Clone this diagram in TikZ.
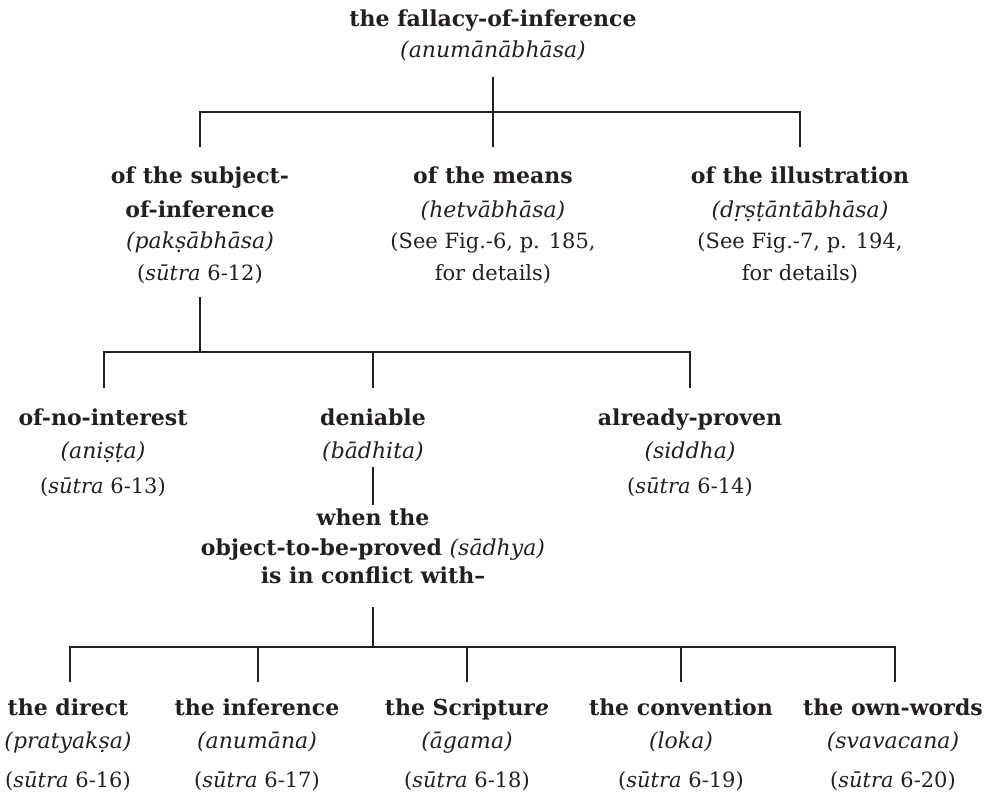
\documentclass[tikz,border=0pt]{standalone}
\usepackage{fontspec}
\setmainfont{DejaVu Serif}
\definecolor{ink}{HTML}{231F20}
\begin{document}
\begin{tikzpicture}[x=1pt,y=-1pt,
  txt/.style={inner sep=0pt,anchor=base,text=ink,font=\fontsize{21}{24}\selectfont},
  hd/.style={txt,font=\fontsize{22}{25}\selectfont\bfseries},
  tr/.style={txt,font=\fontsize{22}{25}\selectfont\itshape},
  link/.style={draw=ink,line width=1.3pt}]
\useasboundingbox (0,0) rectangle (996,795);

% root
\node[hd] (root) at (493,27) {the fallacy-of-inference};
\node[tr] (rootT) at (493,57) {(anumānābhāsa)};

% second level
\node[hd] (subjA) at (200,183) {of the subject-};
\node[hd] (subjB) at (200,217) {of-inference};
\node[tr] (subjT) at (200,248) {(pakṣābhāsa)};
\node[txt] (subjS) at (200,280) {(\textit{sūtra} 6-12)};

\node[hd] (mean) at (493,183) {of the means};
\node[tr] (meanT) at (493,217) {(hetvābhāsa)};
\node[txt] (meanA) at (493,248) {(See Fig.-6, p. 185,};
\node[txt] (meanB) at (493,280) {for details)};

\node[hd] (illu) at (800,183) {of the illustration};
\node[tr] (illuT) at (800,217) {(dṛṣṭāntābhāsa)};
\node[txt] (illuA) at (800,248) {(See Fig.-7, p. 194,};
\node[txt] (illuB) at (800,280) {for details)};

% third level
\node[hd] (noint) at (103,425) {of-no-interest};
\node[tr] (nointT) at (103,458) {(aniṣṭa)};
\node[txt] (nointS) at (103,493) {(\textit{sūtra} 6-13)};

\node[hd] (deni) at (373,425) {deniable};
\node[tr] (deniT) at (373,458) {(bādhita)};

\node[hd] (prov) at (690,425) {already-proven};
\node[tr] (provT) at (690,458) {(siddha)};
\node[txt] (provS) at (690,493) {(\textit{sūtra} 6-14)};

\node[hd] (whenA) at (373,525) {when the};
\node[hd] (whenB) at (373,555) {object-to-be-proved \normalfont\itshape(sādhya)};
\node[hd] (whenC) at (373,583) {is in conflict with–};

% fourth level
\node[hd] (dir) at (68,715) {the direct};
\node[tr] (dirT) at (68,748) {(pratyakṣa)};
\node[txt] (dirS) at (68,787) {(\textit{sūtra} 6-16)};

\node[hd] (inf) at (257,715) {the inference};
\node[tr] (infT) at (257,748) {(anumāna)};
\node[txt] (infS) at (257,787) {(\textit{sūtra} 6-17)};

\node[hd] (scr) at (467,715) {the Scriptur\textit{e}};
\node[tr] (scrT) at (467,748) {(āgama)};
\node[txt] (scrS) at (467,787) {(\textit{sūtra} 6-18)};

\node[hd] (conv) at (681,715) {the convention};
\node[tr] (convT) at (681,748) {(loka)};
\node[txt] (convS) at (681,787) {(\textit{sūtra} 6-19)};

\node[hd] (own) at (893,715) {the own-words};
\node[tr] (ownT) at (893,748) {(svavacana)};
\node[txt] (ownS) at (893,787) {(\textit{sūtra} 6-20)};

% junction points of the tree
\coordinate (r0) at (493,77);
\coordinate (r1) at (493,112);
\coordinate (bL1) at (200,112);
\coordinate (bR1) at (800,112);
\coordinate (d1a) at (200,147);
\coordinate (d1b) at (493,147);
\coordinate (d1c) at (800,147);

\coordinate (s0) at (200,297);
\coordinate (s1) at (200,352);
\coordinate (bL2) at (104,352);
\coordinate (bR2) at (690,352);
\coordinate (d2a) at (104,388);
\coordinate (d2b) at (373,388);
\coordinate (d2c) at (690,388);

\coordinate (n0) at (373,467);
\coordinate (n1) at (373,505);

\coordinate (w0) at (373,607);
\coordinate (w1) at (373,647);
\coordinate (bL3) at (70,647);
\coordinate (bR3) at (895,647);
\coordinate (d3a) at (70,682);
\coordinate (d3b) at (258,682);
\coordinate (d3c) at (467,682);
\coordinate (d3d) at (681,682);
\coordinate (d3e) at (895,682);

% connectors
\draw[link] (r0) -- (r1);
\draw[link] (d1a) -- (bL1) -- (bR1) -- (d1c);
\draw[link] (r1) -- (d1b);

\draw[link] (s0) -- (s1);
\draw[link] (d2a) -- (bL2) -- (bR2) -- (d2c);
\draw[link] (s1 -| d2b) -- (d2b);

\draw[link] (n0) -- (n1);

\draw[link] (w0) -- (w1);
\draw[link] (d3a) -- (bL3) -- (bR3) -- (d3e);
\draw[link] (bL3 -| d3b) -- (d3b);
\draw[link] (bL3 -| d3c) -- (d3c);
\draw[link] (bL3 -| d3d) -- (d3d);
\end{tikzpicture}
\end{document}
